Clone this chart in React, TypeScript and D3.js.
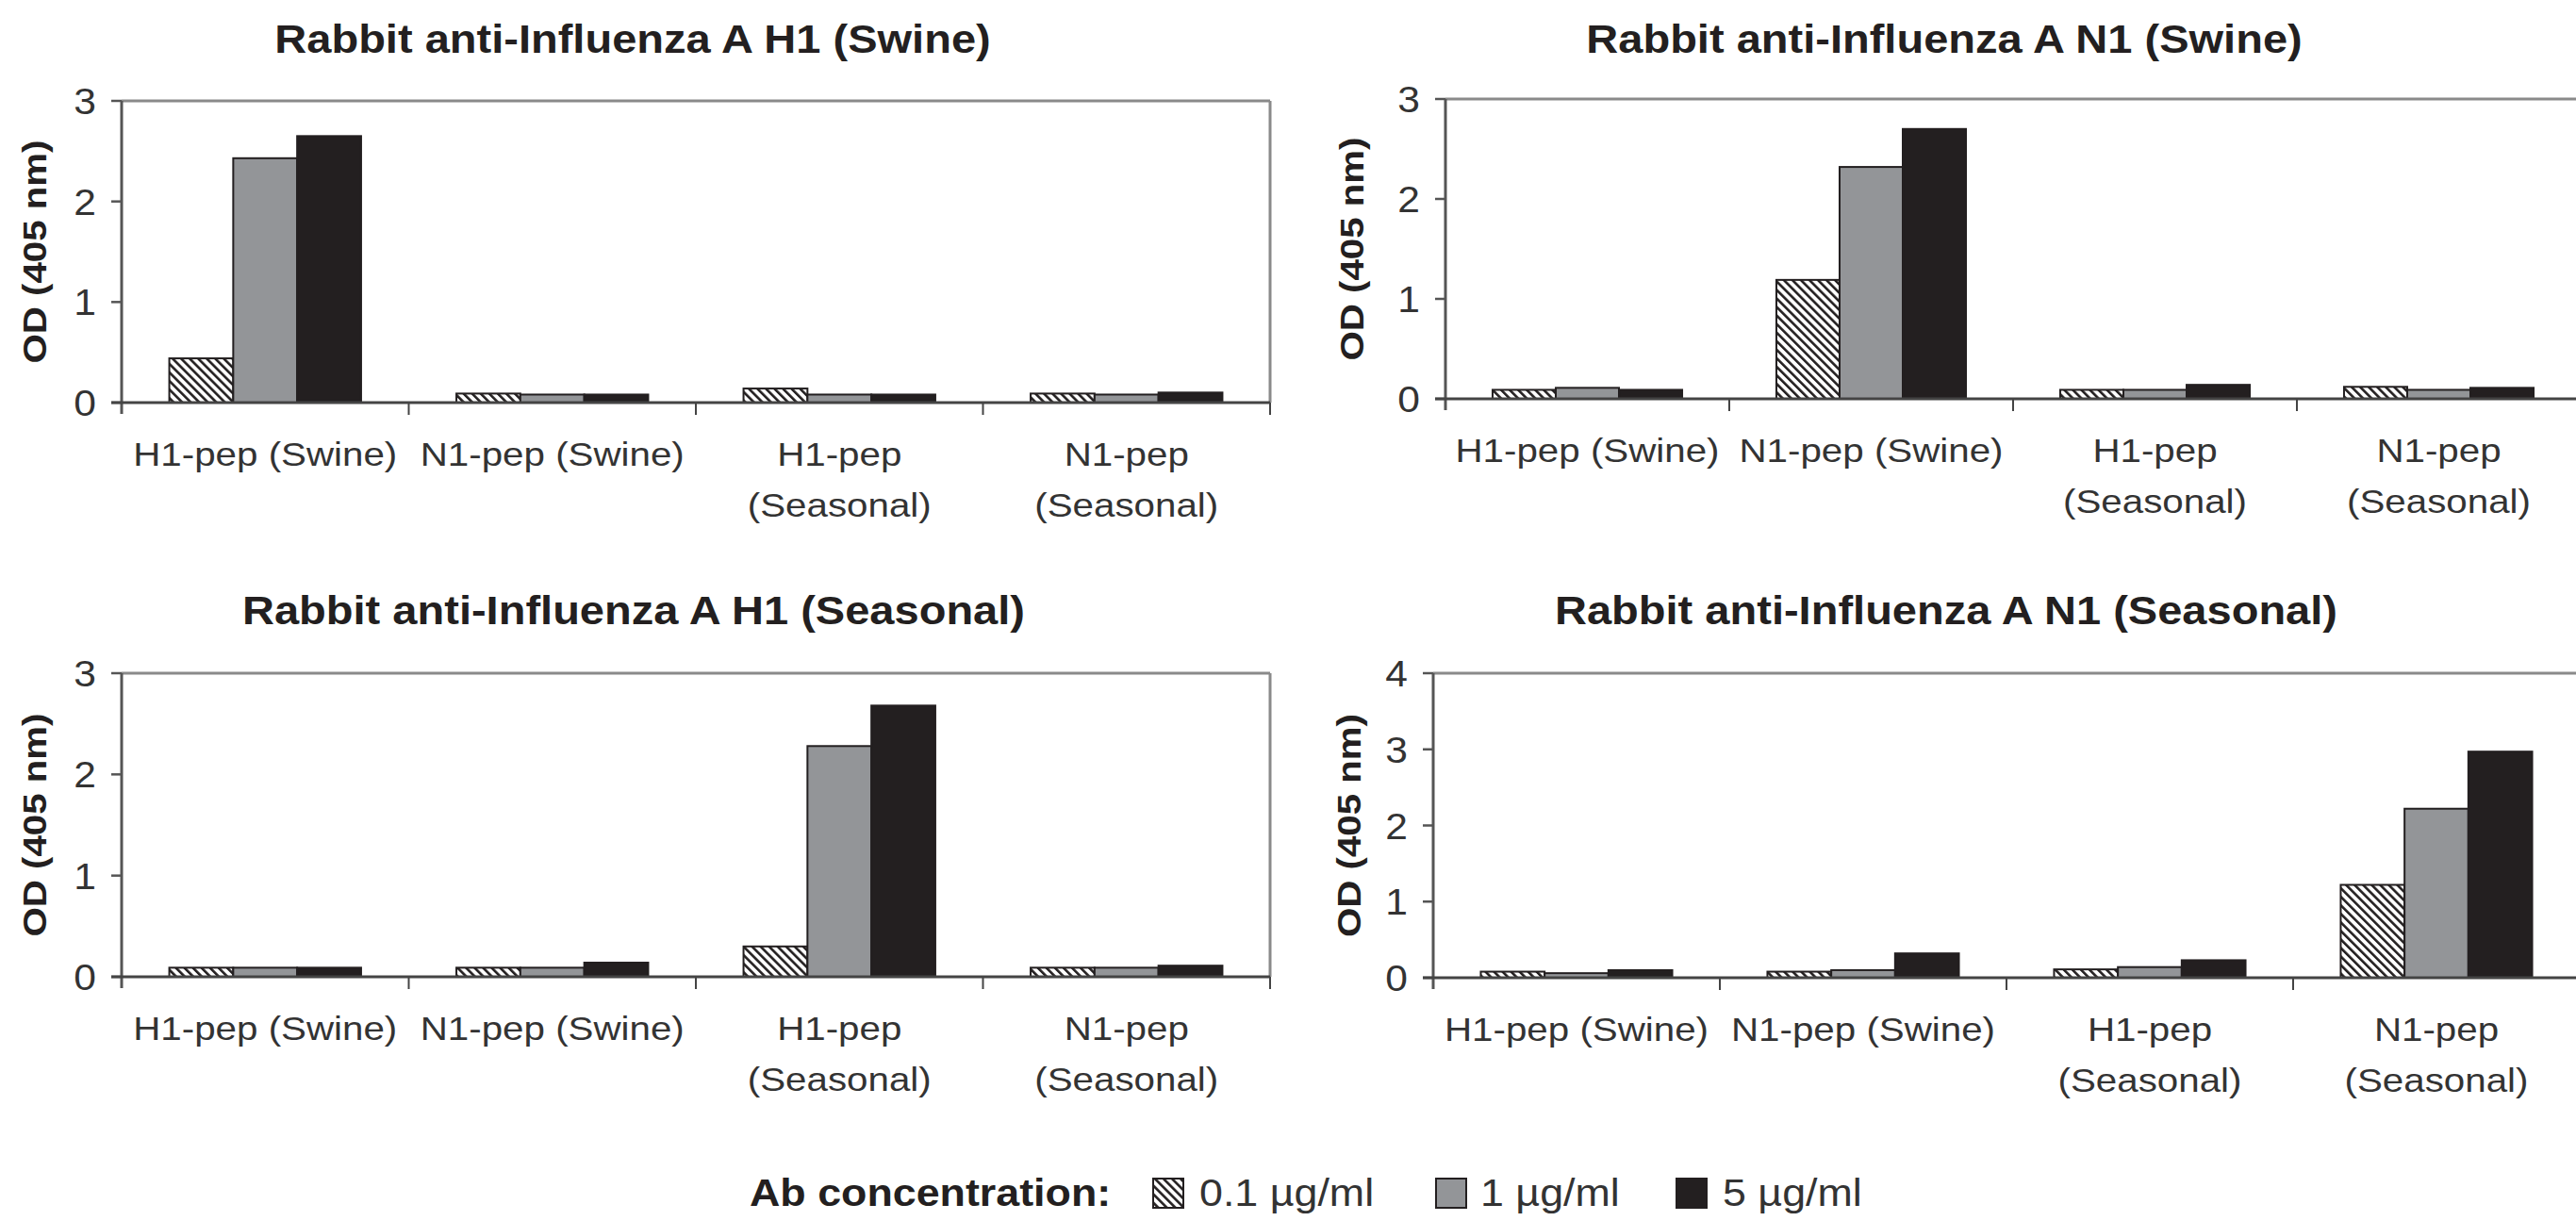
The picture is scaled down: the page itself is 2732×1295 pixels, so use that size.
import React, { useEffect, useRef } from "react";
import * as d3 from "d3";

// peptide categories (x axis), one array of lines per label
const categories = ["H1-pep (Swine)", "N1-pep (Swine)", "H1-pep (Seasonal)", "N1-pep (Seasonal)"];
const categoryLines = [["H1-pep (Swine)"], ["N1-pep (Swine)"], ["H1-pep", "(Seasonal)"], ["N1-pep", "(Seasonal)"]];
const seriesNames = ["0.1 µg/ml", "1 µg/ml", "5 µg/ml"];

const panelTitles = [
  "Rabbit anti-Influenza A H1 (Swine)",
  "Rabbit anti-Influenza A N1 (Swine)",
  "Rabbit anti-Influenza A H1 (Seasonal)",
  "Rabbit anti-Influenza A N1 (Seasonal)",
];
const yMaxes = [3, 3, 3, 4];

// values per series (0.1, 1, 5 µg/ml), in category order
const h1SwineValues = [
  [0.44, 0.09, 0.14, 0.09],
  [2.43, 0.08, 0.08, 0.08],
  [2.65, 0.08, 0.08, 0.1],
];
const n1SwineValues = [
  [0.09, 1.19, 0.09, 0.12],
  [0.11, 2.32, 0.09, 0.09],
  [0.09, 2.7, 0.14, 0.11],
];
const h1SeasonalValues = [
  [0.09, 0.09, 0.3, 0.09],
  [0.09, 0.09, 2.28, 0.09],
  [0.09, 0.14, 2.68, 0.11],
];
const n1SeasonalValues = [
  [0.08, 0.08, 0.11, 1.22],
  [0.06, 0.1, 0.14, 2.22],
  [0.1, 0.32, 0.23, 2.97],
];
const panelValues = [h1SwineValues, n1SwineValues, h1SeasonalValues, n1SeasonalValues];

const layout = [
  { left: 129, top: 107, zero: 427, band: 304.5, titleX: 671, titleY: 56, labelX: 36 },
  { left: 1533, top: 105, zero: 423, band: 301, titleX: 2062, titleY: 56, labelX: 1433 },
  { left: 129, top: 714, zero: 1036, band: 304.5, titleX: 672, titleY: 662, labelX: 36 },
  { left: 1520, top: 714, zero: 1037, band: 304, titleX: 2064, titleY: 662, labelX: 1430 },
];

const FONT = "'Liberation Sans', Arial, Helvetica, sans-serif";
const STRETCH = 1.12;
const fills = ["url(#hatch)", "#939598", "#231f20"];
const TEXT = "#231f20";

function App() {
  const ref = useRef<SVGSVGElement>(null);

  useEffect(() => {
    const svg = d3.select(ref.current);
    svg.selectAll("*").remove();

    const defs = svg.append("defs");
    const pat = defs.append("pattern")
      .attr("id", "hatch")
      .attr("patternUnits", "userSpaceOnUse")
      .attr("width", 6.4)
      .attr("height", 6.4)
      .attr("patternTransform", "rotate(-45)");
    pat.append("rect").attr("width", 6.4).attr("height", 6.4).attr("fill", "#fff");
    pat.append("rect").attr("width", 2.6).attr("height", 6.4).attr("fill", "#231f20");

    layout.forEach((p, pi) => {
      const g = svg.append("g");
      const W = p.band * categories.length;
      const x0 = d3.scaleBand().domain(categories).range([p.left, p.left + W]);
      const pad = 0.166 * x0.bandwidth();
      const x1 = d3.scaleBand().domain(seriesNames).range([pad, x0.bandwidth() - pad]);
      const y = d3.scaleLinear().domain([0, yMaxes[pi]]).range([p.zero, p.top]);
      const vals = panelValues[pi];

      // plot frame (top and right border)
      g.append("line").attr("x1", p.left).attr("x2", p.left + W).attr("y1", p.top).attr("y2", p.top)
        .attr("stroke", "#8a8a8a").attr("stroke-width", 3);
      g.append("line").attr("x1", p.left + W).attr("x2", p.left + W).attr("y1", p.top).attr("y2", p.zero)
        .attr("stroke", "#8a8a8a").attr("stroke-width", 3);

      // bars
      seriesNames.forEach((s, si) => {
        g.selectAll(null)
          .data(vals[si])
          .join("rect")
          .attr("x", (d, ci) => x0(categories[ci])! + x1(s)!)
          .attr("width", x1.bandwidth())
          .attr("y", d => y(d))
          .attr("height", d => y(0) - y(d))
          .attr("fill", fills[si])
          .attr("stroke", "#231f20")
          .attr("stroke-width", 2);
      });

      // y axis
      g.append("line").attr("x1", p.left).attr("x2", p.left).attr("y1", p.top).attr("y2", p.zero + 12)
        .attr("stroke", "#555").attr("stroke-width", 3);
      const ticks = d3.range(0, yMaxes[pi] + 1);
      g.selectAll(null).data(ticks).join("line")
        .attr("x1", p.left - 11).attr("x2", p.left)
        .attr("y1", d => y(d)).attr("y2", d => y(d))
        .attr("stroke", "#555").attr("stroke-width", 2.5);
      g.selectAll(null).data(ticks).join("text")
        .attr("transform", d => `translate(${p.left - 27},${y(d) + 14}) scale(${STRETCH},1)`)
        .attr("text-anchor", "end")
        .attr("font-family", FONT)
        .attr("font-size", 38)
        .attr("fill", "#333")
        .text(d => d);

      // x axis (zero line) and category ticks
      g.append("line").attr("x1", p.left - 11).attr("x2", p.left + W).attr("y1", p.zero).attr("y2", p.zero)
        .attr("stroke", "#444").attr("stroke-width", 3);
      g.selectAll(null).data(d3.range(1, categories.length + 1)).join("line")
        .attr("x1", i => p.left + i * x0.bandwidth()).attr("x2", i => p.left + i * x0.bandwidth())
        .attr("y1", p.zero).attr("y2", p.zero + 13)
        .attr("stroke", "#444").attr("stroke-width", 2);

      // category labels
      categories.forEach((c, ci) => {
        const cx = x0(c)! + x0.bandwidth() / 2;
        categoryLines[ci].forEach((line, li) => {
          g.append("text")
            .attr("transform", `translate(${cx},${p.zero + 67 + li * 54}) scale(${STRETCH},1)`)
            .attr("text-anchor", "middle")
            .attr("font-family", FONT)
            .attr("font-size", 36)
            .attr("fill", "#333")
            .text(line);
        });
      });

      // y axis title
      g.append("text")
        .attr("transform", `translate(${p.labelX + 12.5},${(p.top + p.zero) / 2}) rotate(-90) scale(1.15,1)`)
        .attr("text-anchor", "middle")
        .attr("font-family", FONT)
        .attr("font-weight", "bold")
        .attr("font-size", 35)
        .attr("fill", TEXT)
        .text("OD (405 nm)");

      // panel title
      g.append("text")
        .attr("transform", `translate(${p.titleX},${p.titleY}) scale(${STRETCH},1)`)
        .attr("text-anchor", "middle")
        .attr("font-family", FONT)
        .attr("font-weight", "bold")
        .attr("font-size", 42)
        .attr("fill", TEXT)
        .text(panelTitles[pi]);
    });

    // legend
    const lg = svg.append("g");
    lg.append("text")
      .attr("transform", `translate(795,1279) scale(${STRETCH},1)`)
      .attr("font-family", FONT)
      .attr("font-weight", "bold")
      .attr("font-size", 40)
      .attr("fill", TEXT)
      .text("Ab concentration:");
    const swatchX = [1223, 1523, 1778];
    const labelX = [1272, 1570, 1827];
    seriesNames.forEach((s, si) => {
      lg.append("rect")
        .attr("x", swatchX[si]).attr("y", 1250).attr("width", 32).attr("height", 31)
        .attr("fill", fills[si]).attr("stroke", "#231f20").attr("stroke-width", 2);
      lg.append("text")
        .attr("transform", `translate(${labelX[si]},1279) scale(${STRETCH},1)`)
        .attr("font-family", FONT)
        .attr("font-size", 40)
        .attr("fill", "#333")
        .text(s);
    });
  }, []);

  return (
    <svg
      ref={ref}
      width={2732}
      height={1295}
      style={{ position: "absolute", left: 0, top: 0, background: "#fff" }}
    />
  );
}

export default App;
